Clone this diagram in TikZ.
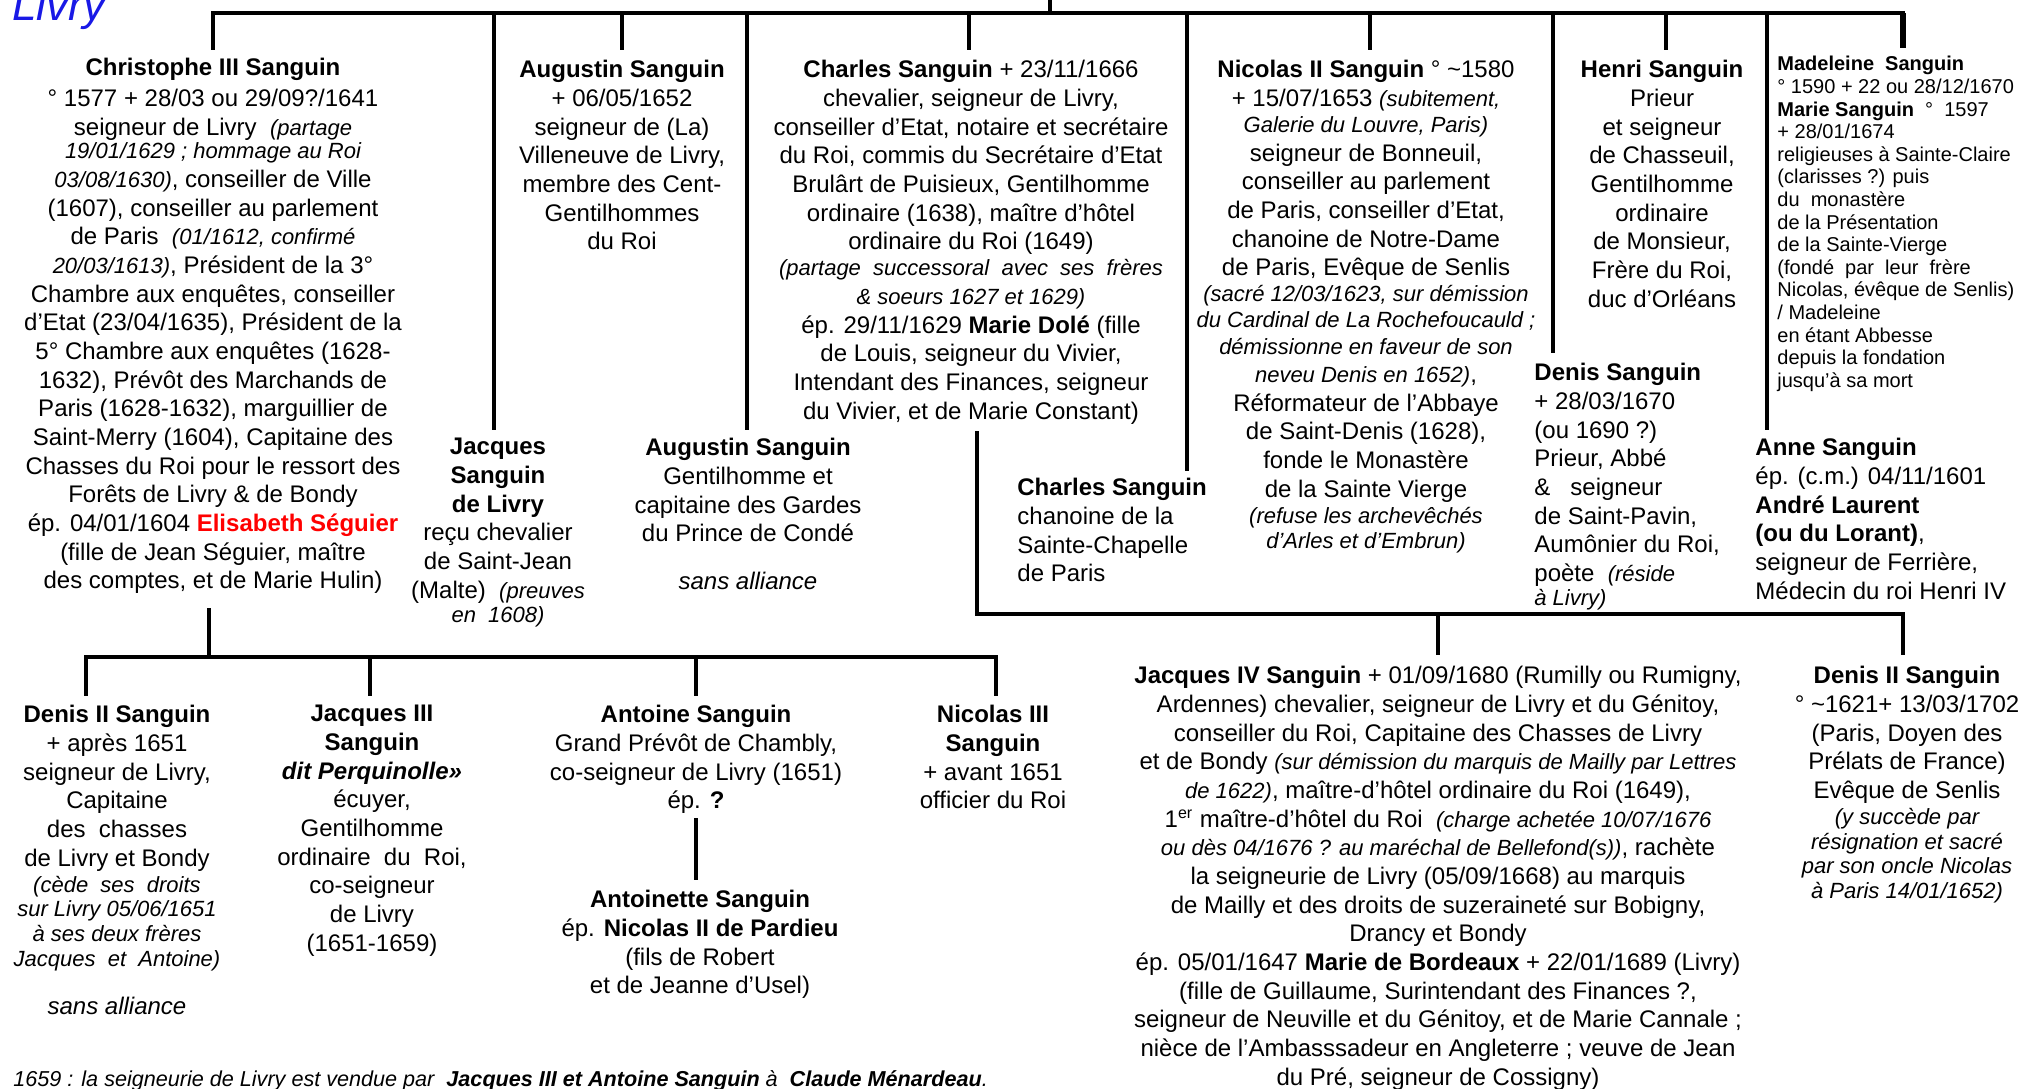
\documentclass[tikz,border=0pt]{standalone}
\usepackage{fontspec}
\setmainfont{Liberation Sans}
\definecolor{titleblue}{RGB}{25,25,230}
\definecolor{namered}{RGB}{255,0,0}
\newcommand\smit[1]{{\fontsize{11}{12}\selectfont\itshape #1}}
\tikzset{
  conn/.style={line width=1.6pt, line cap=rect},
  thick conn/.style={line width=2.6pt},
  pc/.style={anchor=north, align=center, inner sep=0pt, font=\fontsize{12}{14.33}\selectfont},
  pl/.style={anchor=north west, align=left, inner sep=0pt, font=\fontsize{12}{14.33}\selectfont},
  psmall/.style={anchor=north west, align=left, inner sep=0pt, font=\fontsize{10}{11.3}\selectfont},
}
\begin{document}
\begin{tikzpicture}[x=0.5pt,y=-0.5pt]
\useasboundingbox (0,0) rectangle (2028,1088);
\clip (0,0) rectangle (2028,1088);

% title
\node[anchor=base west, inner sep=0pt, font=\fontsize{22}{24}\selectfont\itshape, text=titleblue] (livry) at (12,20) {Livry};

% ---------- first generation ----------
\node[pc] (chris) at (213,58) {\textbf{Christophe III Sanguin}\\[1pt]
° 1577 + 28/03 ou 29/09?/1641\\
seigneur de Livry \ \smit{(partage}\\[-2.5pt]
\smit{19/01/1629 ; hommage au Roi}\\
\smit{03/08/1630)}, conseiller de Ville\\
(1607), conseiller au parlement\\
de Paris \ \smit{(01/1612, confirmé}\\
\smit{20/03/1613)}, Président de la 3°\\
Chambre aux enquêtes, conseiller\\
d’Etat (23/04/1635), Président de la\\
5° Chambre aux enquêtes (1628-\\
1632), Prévôt des Marchands de\\
Paris (1628-1632), marguillier de\\
Saint-Merry (1604), Capitaine des\\
Chasses du Roi pour le ressort des\\
Forêts de Livry \& de Bondy\\
ép. 04/01/1604 \textcolor{namered}{\textbf{Elisabeth Séguier}}\\
(fille de Jean Séguier, maître\\
des comptes, et de Marie Hulin)};

\node[pc] (aug1) at (622,60) {\textbf{Augustin Sanguin}\\
+ 06/05/1652\\
seigneur de (La)\\
Villeneuve de Livry,\\
membre des Cent-\\
Gentilhommes\\
du Roi};

\node[pc] (charles) at (971,60) {\textbf{Charles Sanguin} + 23/11/1666\\
chevalier, seigneur de Livry,\\
conseiller d’Etat, notaire et secrétaire\\
du Roi, commis du Secrétaire d’Etat\\
Brulârt de Puisieux, Gentilhomme\\
ordinaire (1638), maître d’hôtel\\
ordinaire du Roi (1649)\\[-1.3pt]
\smit{(partage \ successoral \ avec \ ses \ frères}\\
\smit{\& soeurs 1627 et 1629)}\\
ép. 29/11/1629 \textbf{Marie Dolé} (fille\\
de Louis, seigneur du Vivier,\\
Intendant des Finances, seigneur\\
du Vivier, et de Marie Constant)};

\node[pc] (nic2) at (1366,60) {\textbf{Nicolas II Sanguin} ° \textasciitilde1580\\
+ 15/07/1653 \smit{(subitement,}\\[-1.3pt]
\smit{Galerie du Louvre, Paris)}\\
seigneur de Bonneuil,\\
conseiller au parlement\\
de Paris, conseiller d’Etat,\\
chanoine de Notre-Dame\\
de Paris, Evêque de Senlis\\[-1.3pt]
\smit{(sacré 12/03/1623, sur démission}\\[-1.3pt]
\smit{du Cardinal de La Rochefoucauld ;}\\[-1.3pt]
\smit{démissionne en faveur de son}\\
\smit{neveu Denis en 1652)},\\
Réformateur de l’Abbaye\\
de Saint-Denis (1628),\\
fonde le Monastère\\
de la Sainte Vierge\\[-1.3pt]
\smit{(refuse les archevêchés}\\[-1.8pt]
\smit{d’Arles et d’Embrun)}};

\node[pc] (henri) at (1662,60) {\textbf{Henri Sanguin}\\
Prieur\\
et seigneur\\
de Chasseuil,\\
Gentilhomme\\
ordinaire\\
de Monsieur,\\
Frère du Roi,\\
duc d’Orléans};

\node[psmall] (madel) at (1777,56) {\textbf{Madeleine\ \ Sanguin}\\
° 1590 + 22 ou 28/12/1670\\
\textbf{Marie Sanguin} \ ° \ 1597\\
+ 28/01/1674\\
religieuses à Sainte-Claire\\
(clarisses ?) puis\\
du \ monastère\\
de la Présentation\\
de la Sainte-Vierge\\
(fondé \ par \ leur \ frère\\
Nicolas, évêque de Senlis)\\
/ Madeleine\\
en étant Abbesse\\
depuis la fondation\\
jusqu’à sa mort};

\node[pc] (jacq) at (498,438) {\textbf{Jacques}\\
\textbf{Sanguin}\\
\textbf{de Livry}\\
reçu chevalier\\
de Saint-Jean\\
(Malte) \ \smit{(preuves}\\[-2pt]
\smit{en \ 1608)}};

\node[pc] (aug2) at (748,438) {\textbf{Augustin Sanguin}\\
Gentilhomme et\\
capitaine des Gardes\\
du Prince de Condé\\[9.6pt]
\textit{sans alliance}};

\node[pl] (chan) at (1017,478) {\textbf{Charles Sanguin}\\
chanoine de la\\
Sainte-Chapelle\\
de Paris};

\node[pl] (denis) at (1534,363) {\textbf{Denis Sanguin}\\
+ 28/03/1670\\
(ou 1690 ?)\\
Prieur, Abbé\\
\& \ \ seigneur\\
de Saint-Pavin,\\
Aumônier du Roi,\\
poète \ \smit{(réside}\\[-2.5pt]
\smit{à Livry)}};

\node[pl] (anne) at (1755,438) {\textbf{Anne Sanguin}\\
ép. (c.m.) 04/11/1601\\
\textbf{André Laurent}\\
\textbf{(ou du Lorant)},\\
seigneur de Ferrière,\\
Médecin du roi Henri IV};

% ---------- second generation ----------
\node[pc] (den2l) at (117,705) {\textbf{Denis II Sanguin}\\
+ après 1651\\
seigneur de Livry,\\
Capitaine\\
des \ chasses\\
de Livry et Bondy\\[-1.3pt]
\smit{(cède \ ses \ droits}\\[-2pt]
\smit{sur Livry 05/06/1651}\\[-2pt]
\smit{à ses deux frères}\\[-2pt]
\smit{Jacques \ et \ Antoine)}\\[9.6pt]
\textit{sans alliance}};

\node[pc] (jac3) at (372,705) {\textbf{Jacques III}\\
\textbf{Sanguin}\\
\textbf{\textit{dit Perquinolle»}}\\
écuyer,\\
Gentilhomme\\
ordinaire \ du \ Roi,\\
co-seigneur\\
de Livry\\
(1651-1659)};

\node[pc] (ant) at (696,705) {\textbf{Antoine Sanguin}\\
Grand Prévôt de Chambly,\\
co-seigneur de Livry (1651)\\
ép. \textbf{?}};

\node[pc] (antte) at (700,890) {\textbf{Antoinette Sanguin}\\
ép. \textbf{Nicolas II de Pardieu}\\
(fils de Robert\\
et de Jeanne d’Usel)};

\node[pc] (nic3) at (993,705) {\textbf{Nicolas III}\\
\textbf{Sanguin}\\
+ avant 1651\\
officier du Roi};

\node[pc] (jac4) at (1438,666) {\textbf{Jacques IV Sanguin} + 01/09/1680 (Rumilly ou Rumigny,\\
Ardennes) chevalier, seigneur de Livry et du Génitoy,\\
conseiller du Roi, Capitaine des Chasses de Livry\\
et de Bondy \smit{(sur démission du marquis de Mailly par Lettres}\\
\smit{de 1622)}, maître-d’hôtel ordinaire du Roi (1649),\\
1\textsuperscript{er} maître-d’hôtel du Roi \ \smit{(charge achetée 10/07/1676}\\
\smit{ou dès 04/1676 ? au maréchal de Bellefond(s))}, rachète\\
la seigneurie de Livry (05/09/1668) au marquis\\
de Mailly et des droits de suzeraineté sur Bobigny,\\
Drancy et Bondy\\
ép. 05/01/1647 \textbf{Marie de Bordeaux} + 22/01/1689 (Livry)\\
(fille de Guillaume, Surintendant des Finances ?,\\
seigneur de Neuville et du Génitoy, et de Marie Cannale ;\\
nièce de l’Ambasssadeur en Angleterre ; veuve de Jean\\
du Pré, seigneur de Cossigny)};

\node[pc] (den2r) at (1907,666) {\textbf{Denis II Sanguin}\\
° \textasciitilde1621+ 13/03/1702\\
(Paris, Doyen des\\
Prélats de France)\\
Evêque de Senlis\\[-1.3pt]
\smit{(y succède par}\\[-2pt]
\smit{résignation et sacré}\\[-2pt]
\smit{par son oncle Nicolas}\\[-2pt]
\smit{à Paris 14/01/1652)}};

\node[anchor=base west, inner sep=0pt, font=\fontsize{10.8}{12}\selectfont\itshape] (caption) at (13,1086)
  {1659 : la seigneurie de Livry est vendue par \ \textbf{Jacques III et Antoine Sanguin} à \ \textbf{Claude Ménardeau}.};

% ---------- connectors ----------
\coordinate (parent) at (1050,-5);
\coordinate (barL) at (213,13);
\coordinate (barR) at (1903,13);
\draw[conn] (parent) -- (parent |- barL);
\draw[conn] (barL) -- (barR);
\draw[conn] (chris.north |- barL) -- (213,48);
\draw[conn] (494,13) -- (494,428);
\draw[conn] (aug1.north |- barL) -- (622,48);
\draw[conn] (747,13) -- (747,428);
\draw[conn] (969,13) -- (969,48);
\draw[conn] (1187,13) -- (1187,469);
\draw[conn] (1370,13) -- (1370,48);
\draw[conn] (1553,13) -- (1553,351);
\draw[conn] (1666,13) -- (1666,48);
\draw[conn] (1767,13) -- (1767,428);
\draw[thick conn] (barR) -- (1903,48);

% children of Christophe
\coordinate (lbarL) at (86,657);
\coordinate (lbarR) at (996,657);
\draw[conn] (209,610) -- (209,657);
\draw[conn] (lbarL) -- (lbarR);
\draw[conn] (lbarL) -- (86,694);
\draw[conn] (370,657) -- (370,694);
\draw[conn] (696,657) -- (696,694);
\draw[conn] (lbarR) -- (996,694);
\draw[conn] (696,820) -- (696,878);

% children of Charles
\coordinate (rbarL) at (977,614);
\coordinate (rbarR) at (1903,614);
\draw[conn] (977,433) -- (rbarL);
\draw[conn] (rbarL) -- (rbarR);
\draw[conn] (1438,614) -- (1438,653);
\draw[conn] (rbarR) -- (1903,653);
\end{tikzpicture}
\end{document}
